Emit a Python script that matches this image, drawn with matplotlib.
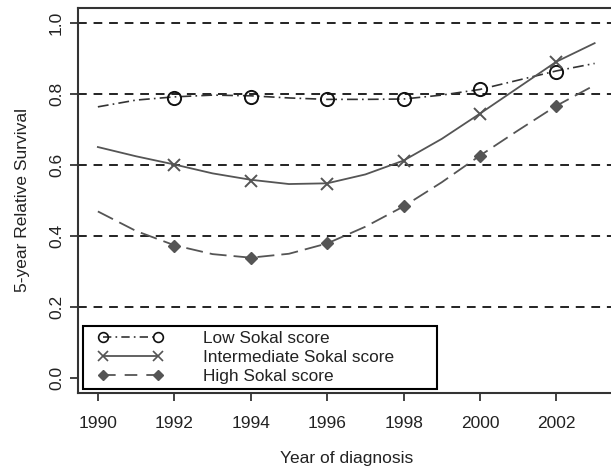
import matplotlib
matplotlib.use("Agg")
import matplotlib.pyplot as plt
from matplotlib.legend_handler import HandlerLine2D

# ---- data ----
years_pts = [1992, 1994, 1996, 1998, 2000, 2002]
low_pts = [0.789, 0.791, 0.784, 0.785, 0.812, 0.862]
inter_pts = [0.600, 0.555, 0.547, 0.611, 0.744, 0.890]
high_pts = [0.372, 0.339, 0.379, 0.483, 0.626, 0.766]

curve_years = [1990, 1991, 1992, 1993, 1994, 1995, 1996, 1997, 1998, 1999, 2000, 2001, 2002, 2003]
low_curve = [0.763, 0.782, 0.791, 0.796, 0.794, 0.788, 0.784, 0.784, 0.785, 0.796, 0.812, 0.838, 0.864, 0.885]
inter_curve = [0.650, 0.624, 0.601, 0.576, 0.558, 0.546, 0.548, 0.573, 0.612, 0.673, 0.744, 0.817, 0.890, 0.942]
high_curve = [0.469, 0.414, 0.374, 0.349, 0.339, 0.350, 0.379, 0.426, 0.483, 0.551, 0.626, 0.697, 0.766, 0.824]

labels = ["Low Sokal score", "Intermediate Sokal score", "High Sokal score"]
grid_levels = [0.2, 0.4, 0.6, 0.8, 1.0]
xticks = [1990, 1992, 1994, 1996, 1998, 2000, 2002]
yticks = [0.0, 0.2, 0.4, 0.6, 0.8, 1.0]

plt.rcParams['font.family'] = ['Liberation Sans', 'DejaVu Sans']
plt.rcParams['font.size'] = 12.5

fig = plt.figure(figsize=(6.11, 4.70), dpi=100)
ax = fig.add_axes([78/611, 1-392.5/470, 536.5/611, (392.5-8.3)/470])

for g in grid_levels:
    ax.axhline(g, color='#222222', lw=1.4, ls=(0, (4.5, 3.5)), zorder=1)

line_col = '#555555'
low_ls = (0, (6.5, 2.5, 1, 2.5))
high_ls = (0, (9.4, 3.9))
ax.plot(curve_years, low_curve, color='#333333', lw=1.2, ls=low_ls, zorder=2)
ax.plot(curve_years, inter_curve, color=line_col, lw=1.3, ls='-', zorder=2)
ax.plot(curve_years, high_curve, color=line_col, lw=1.3, ls=high_ls, zorder=2)

ax.plot(years_pts, low_pts, ls='none', marker='o', ms=9.5, mfc='none', mec='#111111', mew=1.4, zorder=3)
ax.plot(years_pts, inter_pts, ls='none', marker='x', ms=9, mec=line_col, mew=1.4, zorder=3)
ax.plot(years_pts, high_pts, ls='none', marker='D', ms=6.5, mfc=line_col, mec=line_col, zorder=3)

# legend handles
h1, = ax.plot([], [], color='#333333', lw=1.2, ls=(0, (5, 2.5, 1, 2.5)), marker='o', ms=7, mfc='none', mec='#111111', mew=1.2)
h2, = ax.plot([], [], color=line_col, lw=1.3, ls='-', marker='x', ms=7, mec=line_col, mew=1.2)
h3, = ax.plot([], [], color=line_col, lw=1.3, ls=(0, (7, 5)), marker='D', ms=5, mfc=line_col, mec=line_col)

fs_leg = 12.4
hm = {h: HandlerLine2D(numpoints=2, marker_pad=0.85) for h in (h1, h2, h3)}
leg = fig.legend([h1, h2, h3], labels, loc='lower left',
                 bbox_to_anchor=(83/611, 1-389/470, (437-83)/611, 0.01), mode='expand',
                 borderaxespad=0, handler_map=hm, handlelength=4.92, handletextpad=1.77,
                 labelspacing=0.22, fancybox=False, framealpha=1, edgecolor='black',
                 borderpad=0.3, fontsize=fs_leg)
leg.get_frame().set_linewidth(1.5)
for t in leg.get_texts():
    t.set_color('#222222')

ax.set_xlim(1989.48, 2003.52)
ax.set_ylim(-0.04, 1.04)
ax.set_xticks(xticks)
ax.set_yticks(yticks)
ax.set_yticklabels([f"{v:.1f}" for v in yticks])
ax.tick_params(axis='both', direction='out', length=5.5, width=1.2, color='#222222',
               labelcolor='#222222', labelsize=12.5)
ax.tick_params(axis='x', pad=11.5)
ax.tick_params(axis='y', pad=4.5, labelrotation=90)
for lab in ax.get_yticklabels():
    lab.set_va('center')

for s in ax.spines.values():
    s.set_linewidth(1.5)
    s.set_color('#333333')

ax.set_xlabel("Year of diagnosis", color='#222222', labelpad=14, fontsize=12.5)
ax.set_ylabel("5-year Relative Survival", color='#222222', labelpad=13.5, fontsize=12.5)

fig.savefig("out.png", dpi=100)
